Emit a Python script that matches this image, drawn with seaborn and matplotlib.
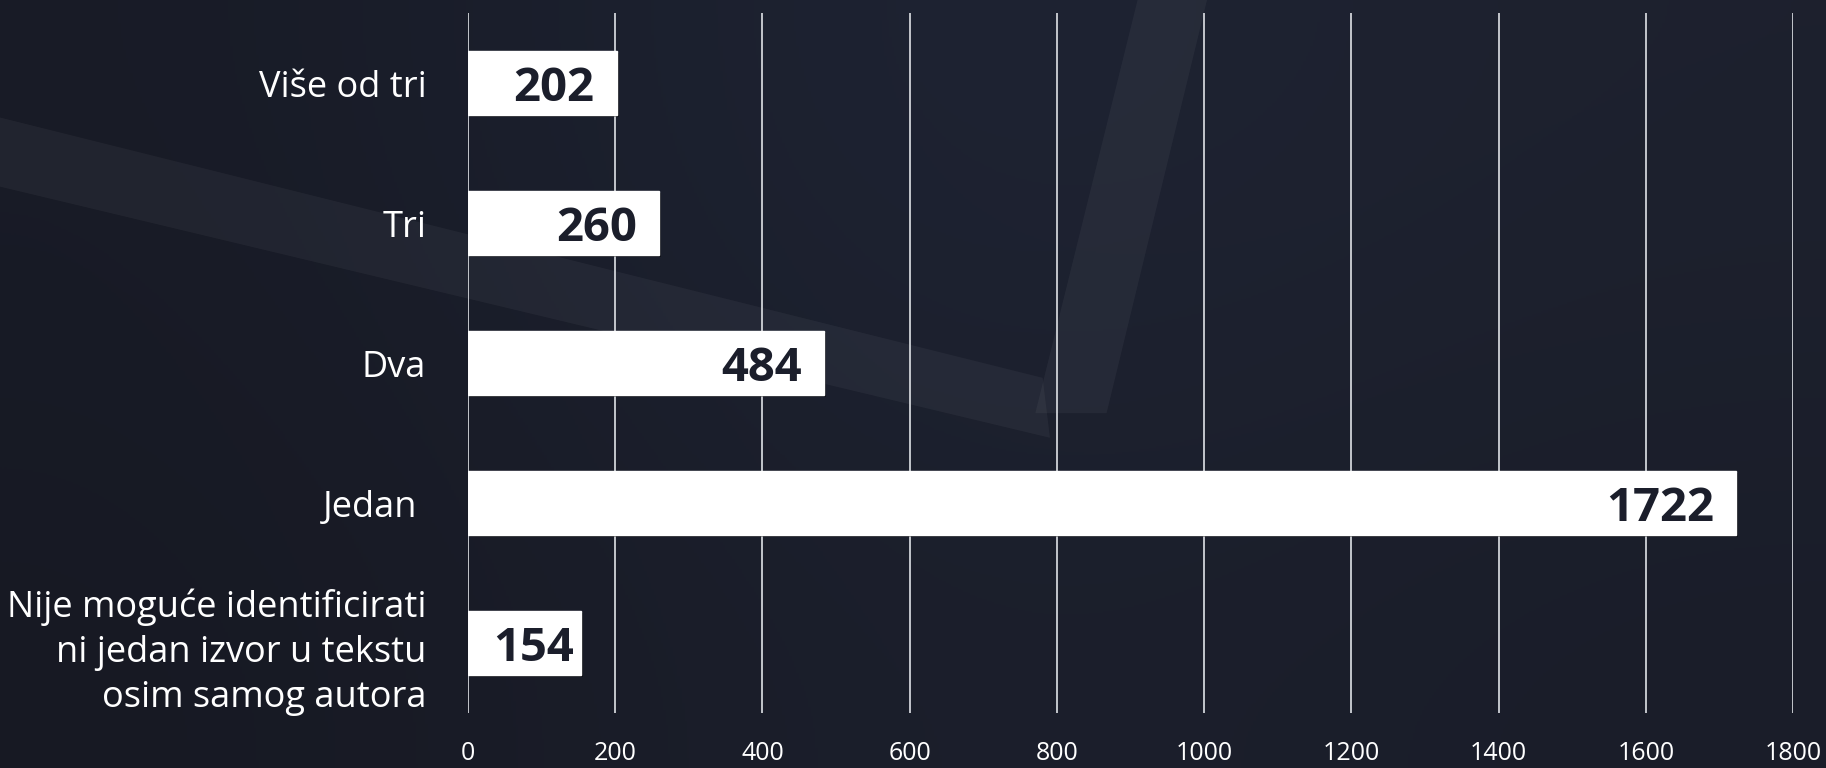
import matplotlib.pyplot as plt
plt.switch_backend('agg')
import matplotlib.patheffects as pe
from matplotlib.patches import Polygon
import numpy as np
import pandas as pd
import seaborn as sns

# data
categories = ["Više od tri", "Tri", "Dva", "Jedan ",
              "Nije moguće identificirati\nni jedan izvor u tekstu\nosim samog autora"]
counts = [202, 260, 484, 1722, 154]
xticks = [0, 200, 400, 600, 800, 1000, 1200, 1400, 1600, 1800]

df = pd.DataFrame({"kategorija": categories, "broj": counts})

sns.set_theme(style="white")
plt.rcParams['font.family'] = ['Open Sans', 'DejaVu Sans']

fig = plt.figure(figsize=(18.26, 7.68), dpi=100)

# dark navy background with a soft gradient
bg = fig.add_axes([0, 0, 1, 1], zorder=-10)
grad = np.array([
    [[0.094, 0.106, 0.150], [0.120, 0.143, 0.208], [0.114, 0.129, 0.180]],
    [[0.090, 0.098, 0.137], [0.110, 0.125, 0.176], [0.102, 0.114, 0.161]],
])
bg.imshow(grad, aspect='auto', interpolation='bicubic', extent=[0, 1, 0, 1])
# faint watermark strokes
bg.add_patch(Polygon([(0, 0.847), (0.571, 0.508), (0.575, 0.43), (0, 0.757)],
                     closed=True, color='white', alpha=0.045, lw=0))
bg.add_patch(Polygon([(0.623, 1.0), (0.661, 1.0), (0.606, 0.462), (0.567, 0.462)],
                     closed=True, color='white', alpha=0.045, lw=0))
bg.set_xlim(0, 1)
bg.set_ylim(0, 1)
bg.axis('off')

ax = fig.add_axes([0.2563, 0.0716, 0.7257, 0.9114])
ax.set_facecolor('none')
sns.barplot(data=df, x="broj", y="kategorija", color="white", width=0.46,
            saturation=1, ax=ax)

for bar in ax.patches:
    bar.set_path_effects([pe.SimplePatchShadow(offset=(1.5, -1.5), shadow_rgbFace='black', alpha=0.45),
                          pe.Normal()])

for i, v in enumerate(counts):
    pad = 22 if v > 180 else 7
    ax.annotate(str(v), xy=(v, i), xytext=(-pad, 0), textcoords='offset pixels',
                ha='right', va='center_baseline', fontsize=34, fontweight='bold', color='#1b1e2b')

ax.set_xlim(0, 1800)
ax.set_xticks(xticks)
ax.set_xticklabels([str(t) for t in xticks])
ax.xaxis.grid(True, color='#d0d3d8', lw=1.3)
ax.set_axisbelow(True)
for s in ax.spines.values():
    s.set_visible(False)
ax.set_xlabel("")
ax.set_ylabel("")
ax.tick_params(axis='x', length=0, pad=20, labelsize=18, labelcolor='white')
ax.tick_params(axis='y', length=0, pad=30, labelsize=26, labelcolor='white')
for lab in ax.get_yticklabels():
    lab.set_linespacing(1.33)

plt.savefig("out.png", dpi=100, facecolor=fig.get_facecolor())
